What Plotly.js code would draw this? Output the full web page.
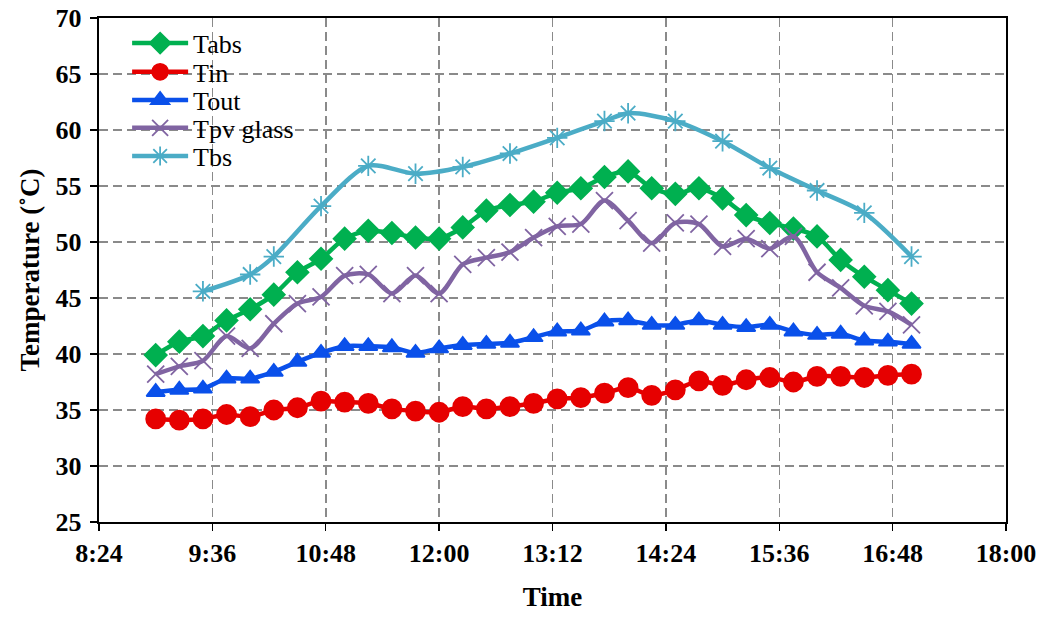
<!DOCTYPE html>
<html><head><meta charset="utf-8">
<script src="https://cdn.plot.ly/plotly-3.0.1.min.js"></script>
<style>body{margin:0;background:#fff}#c{width:1045px;height:619px}</style>
</head><body><div id="c"></div>
<script>
const times = ["09:00","09:15","09:30","09:45","10:00","10:15","10:30","10:45","11:00","11:15","11:30","11:45","12:00","12:15","12:30","12:45","13:00","13:15","13:30","13:45","14:00","14:15","14:30","14:45","15:00","15:15","15:30","15:45","16:00","16:15","16:30","16:45","17:00"];
const tabs = [39.9,41.1,41.6,43.0,44.0,45.3,47.3,48.5,50.3,51.0,50.8,50.4,50.3,51.3,52.8,53.3,53.6,54.4,54.8,55.8,56.3,54.8,54.3,54.8,53.9,52.4,51.7,51.2,50.5,48.4,46.9,45.7,44.5];
const tin = [34.2,34.1,34.2,34.6,34.4,35.0,35.2,35.8,35.7,35.6,35.1,34.9,34.8,35.3,35.1,35.3,35.6,36.0,36.1,36.5,37.0,36.3,36.8,37.6,37.2,37.7,37.9,37.5,38.0,38.0,37.9,38.1,38.2];
const tout = [36.6,36.8,36.9,37.8,37.8,38.4,39.3,40.1,40.7,40.7,40.6,40.1,40.5,40.8,40.9,41.0,41.5,42.0,42.1,42.9,43.0,42.6,42.6,43.0,42.6,42.4,42.6,42.0,41.7,41.8,41.2,41.1,40.9];
const tpv = [38.2,38.9,39.4,41.6,40.5,42.7,44.5,45.1,47.0,47.1,45.4,47.0,45.4,48.0,48.6,49.1,50.4,51.4,51.6,53.7,51.9,49.9,51.7,51.6,49.6,50.3,49.4,50.5,47.3,45.9,44.3,43.8,42.6];
const tbsTimes = ["09:30","10:00","10:15","10:45","11:15","11:45","12:15","12:45","13:15","13:45","14:00","14:30","15:00","15:30","16:00","16:30","17:00"];
const tbs = [45.6,47.1,48.7,53.2,56.8,56.1,56.7,57.9,59.3,60.8,61.5,60.8,59.0,56.6,54.6,52.6,48.7];
const xTickVals = ["08:24","09:36","10:48","12:00","13:12","14:24","15:36","16:48","18:00"];

const day = "2020-01-01 ";
const d = a => a.map(t => day + t);

function tr(name, x, y, color, sym, size, lg) {
  return {
    type: "scatter", mode: "lines+markers", name: name, x: d(x), y: y, legend: lg,
    line: {color: color, width: 4.5, shape: "spline", smoothing: 0.8},
    marker: {color: color, symbol: sym, size: size, line: {color: color, width: 1.8}}
  };
}

const data = [
  tr("Tabs", times, tabs, "#00B050", "diamond", 17, "legend"),
  tr("Tin", times, tin, "#E60000", "circle", 19, "legend2"),
  tr("Tout", times, tout, "#0A50EA", "triangle-up", 16, "legend3"),
  tr("Tpv glass", times, tpv, "#8064A2", "x-thin-open", 17, "legend4"),
  tr("Tbs", tbsTimes, tbs, "#4BACC6", "asterisk-open", 17, "legend5")
];

const legY = [0.950, 0.893, 0.837, 0.782, 0.726];
function leg(y) {
  return {x: 0.031, y: y, xanchor: "left", yanchor: "middle", bgcolor: "rgba(0,0,0,0)",
    font: {size: 26, family: "Liberation Serif", color: "#000"}, itemwidth: 56, borderwidth: 0};
}

const grid = {showgrid: true, gridcolor: "#8a8a8a", griddash: "9px,5px", gridwidth: 1.5,
  showline: true, linecolor: "#000", linewidth: 2.2, mirror: true,
  ticks: "outside", ticklen: 7, tickcolor: "#000", tickwidth: 1.3, zeroline: false,
  tickfont: {size: 26, family: "Liberation Serif", weight: "bold", color: "#000"}};

const layout = {
  width: 1045, height: 619,
  margin: {l: 99, r: 39, t: 18, b: 97},
  paper_bgcolor: "#fff", plot_bgcolor: "#fff",
  font: {family: "Liberation Serif, Times New Roman, serif", color: "#000"},
  showlegend: true,
  legend: leg(legY[0]), legend2: leg(legY[1]), legend3: leg(legY[2]), legend4: leg(legY[3]), legend5: leg(legY[4]),
  xaxis: Object.assign({}, grid, {
    type: "date",
    range: [day + "08:24", day + "18:00"],
    tickvals: d(xTickVals),
    tickformat: "%-H:%M",
    title: {text: "<b>Time</b>", font: {size: 27, family: "Liberation Serif", color: "#000"}, standoff: 20}
  }),
  yaxis: Object.assign({}, grid, {
    range: [25, 70], dtick: 5, tick0: 25, ticklabelstandoff: 3,
    title: {text: "<b>Temperature (˚C)</b>", font: {size: 27, family: "Liberation Serif", color: "#000"}, standoff: 8}
  })
};

Plotly.newPlot("c", data, layout, {displayModeBar: false, staticPlot: true});
</script>
</body></html>
